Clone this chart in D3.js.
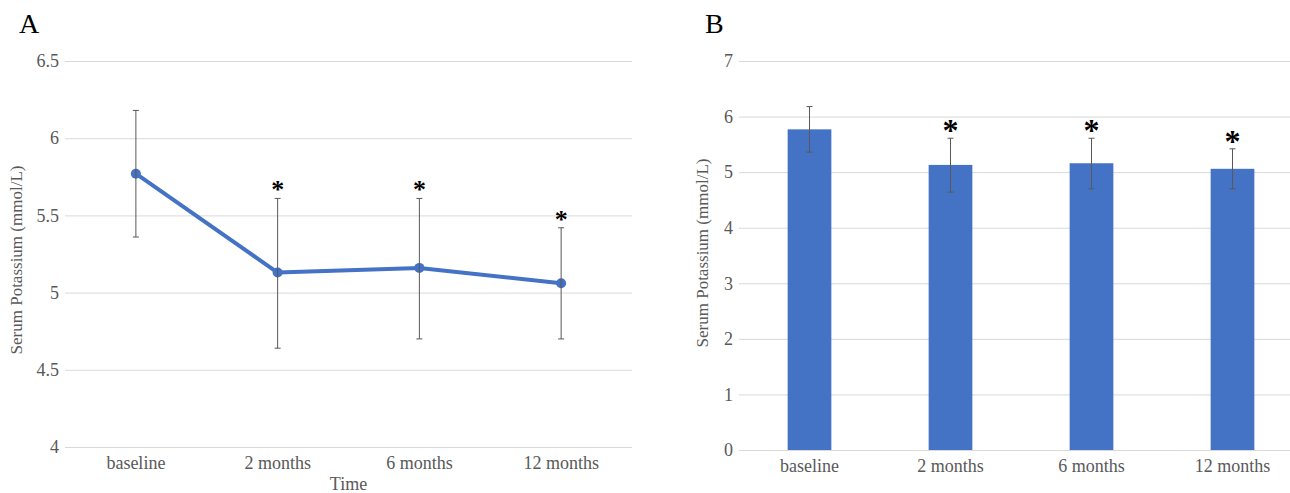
<!DOCTYPE html>
<html>
<head>
<meta charset="utf-8">
<script src="https://cdn.jsdelivr.net/npm/d3@7"></script>
<style>
  body { margin: 0; background: #fff; }
</style>
</head>
<body>
<div id="chart"></div>
<script>
// data
const categories = ['baseline', '2 months', '6 months', '12 months'];
const meanK = [5.77, 5.13, 5.16, 5.06];
const lowK = [5.36, 4.64, 4.70, 4.70];
const highK = [6.18, 5.61, 5.61, 5.42];
const signif = [false, true, true, true];
const ticksA = [4, 4.5, 5, 5.5, 6, 6.5];
const ticksB = [0, 1, 2, 3, 4, 5, 6, 7];

const data = categories.map((c, i) => ({
  cat: c, mean: meanK[i], low: lowK[i], high: highK[i], star: signif[i]
}));

const W = 1290, H = 493;
const blue = '#4472C4';
const grey = '#595959';
const gridCol = '#d9d9d9';
const serif = '"Liberation Serif", "Times New Roman", serif';

const svg = d3.select('#chart').append('svg')
  .attr('width', W).attr('height', H)
  .attr('font-family', serif);

function drawPanel(opt) {
  const g = svg.append('g');
  const x = d3.scaleBand().domain(categories).range([opt.x0, opt.x1]);
  const y = d3.scaleLinear().domain(opt.domain).range([opt.yb, opt.yt]);

  // gridlines
  const yAxis = d3.axisLeft(y).tickValues(opt.ticks)
    .tickSize(-(opt.x1 - opt.x0)).tickFormat(d3.format('~g'));
  const ya = g.append('g').attr('transform', `translate(${opt.x0},0)`).call(yAxis)
    .attr('font-family', serif).attr('font-size', 18);
  ya.select('.domain').remove();
  ya.selectAll('.tick line').attr('stroke', gridCol).attr('stroke-width', 1);
  ya.selectAll('.tick text').attr('x', -6).attr('fill', grey);

  // x labels
  const xAxis = d3.axisBottom(x).tickSize(0);
  const xa = g.append('g').attr('transform', `translate(0,${opt.yb})`).call(xAxis)
    .attr('font-family', serif).attr('font-size', 18);
  xa.select('.domain').remove();
  xa.selectAll('.tick text').attr('dy', 0).attr('y', 22).attr('fill', grey);

  if (opt.type === 'bar') {
    const bw = x.bandwidth() * 0.31;
    g.selectAll('.bar').data(data).enter().append('rect')
      .attr('x', d => x(d.cat) + x.bandwidth() / 2 - bw / 2)
      .attr('y', d => y(d.mean))
      .attr('width', bw)
      .attr('height', d => y(0) - y(d.mean))
      .attr('fill', blue);
  } else {
    const line = d3.line()
      .x(d => x(d.cat) + x.bandwidth() / 2)
      .y(d => y(d.mean));
    g.append('path').datum(data).attr('d', line)
      .attr('fill', 'none').attr('stroke', blue).attr('stroke-width', 4)
      .attr('stroke-linejoin', 'round');
    g.selectAll('.pt').data(data).enter().append('circle')
      .attr('cx', d => x(d.cat) + x.bandwidth() / 2)
      .attr('cy', d => y(d.mean)).attr('r', 5).attr('fill', blue);
  }

  // error bars
  const eb = g.selectAll('.eb').data(data).enter().append('g')
    .attr('transform', d => `translate(${x(d.cat) + x.bandwidth() / 2},0)`);
  eb.append('line').attr('y1', d => y(d.low)).attr('y2', d => y(d.high))
    .attr('stroke', grey).attr('stroke-width', 1);
  eb.append('line').attr('x1', -3).attr('x2', 3)
    .attr('y1', d => y(d.low)).attr('y2', d => y(d.low))
    .attr('stroke', grey).attr('stroke-width', 1);
  eb.append('line').attr('x1', -3).attr('x2', 3)
    .attr('y1', d => y(d.high)).attr('y2', d => y(d.high))
    .attr('stroke', grey).attr('stroke-width', 1);
  eb.filter(d => d.star).append('text')
    .attr('y', d => y(d.high) + opt.starDy)
    .attr('text-anchor', 'middle')
    .attr('font-size', opt.starSize).attr('font-weight', 'bold')
    .attr('fill', '#000').text('*');

  // y title
  g.append('text')
    .attr('transform', `translate(${opt.ytx},${opt.ytc}) rotate(-90)`)
    .attr('text-anchor', 'middle').attr('fill', grey)
    .attr('font-size', 17).text('Serum Potassium (mmol/L)');

  // panel letter
  g.append('text').attr('x', opt.lx).attr('y', 33)
    .attr('font-size', 28).attr('fill', '#000').text(opt.letter);

  if (opt.xTitle) {
    g.append('text').attr('x', (opt.x0 + opt.x1) / 2).attr('y', 490)
      .attr('text-anchor', 'middle').attr('fill', grey)
      .attr('font-size', 18).text(opt.xTitle);
  }
}

drawPanel({
  type: 'line', letter: 'A', lx: 19, x0: 65, x1: 632, yt: 61, yb: 447,
  domain: [4, 6.5], ticks: ticksA, ytx: 22, ytc: 260, xTitle: 'Time',
  starDy: 0, starSize: 26
});

drawPanel({
  type: 'bar', letter: 'B', lx: 705, x0: 739, x1: 1303, yt: 61, yb: 450,
  domain: [0, 7], ticks: ticksB, ytx: 708, ytc: 253, xTitle: null,
  starDy: 3, starSize: 32
});
</script>
</body>
</html>
